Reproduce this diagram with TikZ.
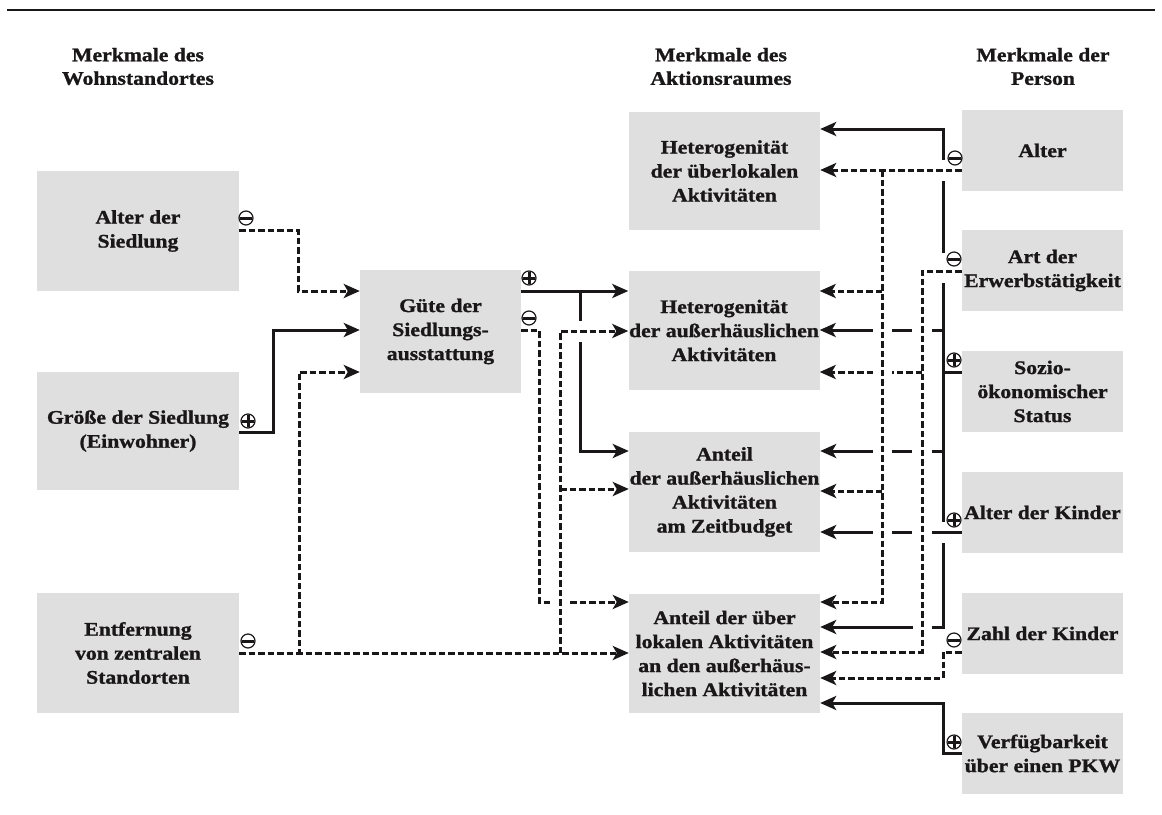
\documentclass[tikz,border=0pt]{standalone}
\usepackage{fontspec}
\newfontfamily\bxfont{Liberation Serif Bold}[FakeStretch=1.13,FakeBold=1.2]
\usetikzlibrary{arrows.meta}
\definecolor{ink}{HTML}{1A1718}
\definecolor{boxgray}{HTML}{DFDFDF}
\tikzset{
  box/.style={rectangle,fill=boxgray,inner sep=0pt,align=center,text=ink,
    font=\bxfont\fontsize{19.2}{24}\selectfont},
  hdr/.style={inner sep=0pt,align=center,text=ink,font=\bxfont\fontsize{19.2}{23.5}\selectfont},
  lbox/.style={box,minimum width=202pt,minimum height=120pt},
  mbox/.style={box,minimum width=191pt,minimum height=119pt},
  pbox/.style={box,minimum width=161pt,minimum height=81pt},
  sol/.style={draw=ink,line width=3pt},
  dsh/.style={draw=ink,line width=3pt,dash pattern=on 6.5pt off 3pt},
  arr/.style={-{Stealth[length=16pt,width=14pt,inset=4pt]}},
  msign/.style={circle,draw=ink,line width=1.2pt,fill=white,minimum size=14pt,inner sep=0pt,
    path picture={\draw[ink,line width=3pt] ([xshift=-6pt]path picture bounding box.center) -- ([xshift=6pt]path picture bounding box.center);}},
  psign/.style={circle,draw=ink,line width=1.2pt,fill=white,minimum size=14pt,inner sep=0pt,
    path picture={\draw[ink,line width=3pt] ([xshift=-6pt]path picture bounding box.center) -- ([xshift=6pt]path picture bounding box.center)
      ([yshift=-6pt]path picture bounding box.center) -- ([yshift=6pt]path picture bounding box.center);}}
}
\begin{document}
\begin{tikzpicture}[x=1pt,y=-1pt]
\useasboundingbox (0,0) rectangle (1162,814);
\draw[ink,line width=2.6pt] (7,10) -- (1155,10);

% headers
\node[hdr] (h1) at (138,66.5) {Merkmale des\\Wohnstandortes};
\node[hdr] (h2) at (721,66.5) {Merkmale des\\Aktionsraumes};
\node[hdr] (h3) at (1043,66.5) {Merkmale der\\Person};

% left boxes
\node[lbox] (sied) at (138,231) {Alter der\\Siedlung};
\node[lbox,minimum height=118pt] (groesse) at (138,431) {Größe der Siedlung\\(Einwohner)};
\node[lbox] (entf) at (138,653) {Entfernung\\von zentralen\\Standorten};
\node[box,minimum width=161pt,minimum height=123pt] (guete) at (440.5,331.5) {Güte der\\Siedlungs-\\ausstattung};

% middle boxes
\node[mbox,minimum height=118pt] (hetueber) at (724.5,171) {Heterogenität\\der überlokalen\\Aktivitäten};
\node[mbox] (hetausser) at (724,330.5) {Heterogenität\\der außerhäuslichen\\Aktivitäten};
\node[mbox,minimum height=120pt] (anteilzeit) at (724.5,492) {Anteil\\der außerhäuslichen\\Aktivitäten\\am Zeitbudget};
\node[mbox] (anteilueber) at (724.5,653.5) {Anteil der über\\lokalen Aktivitäten\\an den außerhäus-\\lichen Aktivitäten};

% right boxes
\node[pbox] (alter) at (1042.5,150.5) {Alter};
\node[pbox] (art) at (1042.5,270.5) {Art der\\Erwerbstätigkeit};
\node[pbox] (sozio) at (1042.5,391.5) {Sozio-\\ökonomischer\\Status};
\node[pbox] (kinder) at (1042.5,512.5) {Alter der Kinder};
\node[pbox] (zahl) at (1042.5,633.5) {Zahl der Kinder};
\node[pbox] (pkw) at (1042.5,753.5) {Verfügbarkeit\\über einen PKW};

% left connectors
\draw[dsh,arr] (sied.east |- 0,230) -- (298,230) -- (298,291) -- (guete.west |- 0,291);
\draw[sol,arr] (groesse.east |- 0,432) -- (273,432) -- (273,330) -- (guete.west |- 0,330);
\draw[dsh,arr] (entf.east |- 0,653) -- (299,653) -- (299,372) -- (guete.west |- 0,372);
\draw[dsh,arr] (entf.east |- 0,653) -- (anteilueber.west |- 0,653);

% from Guete
\draw[sol,arr] (guete.east |- 0,291) -- (hetausser.west |- 0,291);
\coordinate (j1) at (580,291);
\draw[sol] (j1) -- (580,321);
\draw[sol,arr] (580,342) -- (580,451) -- (anteilzeit.west |- 0,451);
\draw[dsh] (guete.east |- 0,330) -- (539,330) -- (539,602) -- (553,602);
\draw[dsh,arr] (570,602) -- (anteilueber.west |- 0,602);
\draw[dsh,arr] (560,653) -- (560,331) -- (hetausser.west |- 0,331);
\draw[dsh,arr] (560,489) -- (anteilzeit.west |- 0,489);

% solid bus x=943
\draw[sol,arr] (943,160) -- (943,129) -- (hetueber.east |- 0,129);
\draw[sol] (943,181) -- (943,253);
\draw[sol] (943,283) -- (943,522);
\draw[sol] (943,543) -- (943,627) -- (932,627);
\draw[sol,arr] (913,627) -- (anteilueber.east |- 0,627);
\draw[sol] (943,330) -- (932,330) (912,330) -- (892,330);
\draw[sol,arr] (873,330) -- (hetausser.east |- 0,330);
\draw[sol] (943,451) -- (932,451) (912,451) -- (892,451);
\draw[sol,arr] (873,451) -- (anteilzeit.east |- 0,451);
\draw[sol] (sozio.west |- 0,372) -- (943,372);
\draw[sol] (kinder.west |- 0,532) -- (932,532) (912,532) -- (892,532);
\draw[sol,arr] (873,532) -- (anteilzeit.east |- 0,532);

% dashed bus x=882
\draw[dsh,arr] (alter.west |- 0,170) -- (hetueber.east |- 0,170);
\draw[dsh,arr] (882,170) -- (882,602) -- (anteilueber.east |- 0,602);
\draw[dsh,arr] (882,291) -- (hetausser.east |- 0,291);
\draw[dsh,arr] (882,491) -- (anteilzeit.east |- 0,491);

% dashed bus x=922
\draw[dsh,arr] (art.west |- 0,271) -- (922,271) -- (922,652) -- (anteilueber.east |- 0,652);
\draw[dsh] (922,372) -- (892,372);
\draw[dsh,arr] (873,372) -- (hetausser.east |- 0,372);

% Zahl, PKW
\draw[dsh,arr] (zahl.west |- 0,652) -- (943,652) -- (943,678) -- (anteilueber.east |- 0,678);
\draw[sol,arr] (pkw.west |- 0,753) -- (943,753) -- (943,703) -- (anteilueber.east |- 0,703);

% signs
\node[msign] (s1) at (246,218) {};
\node[psign] (s2) at (248,421) {};
\node[msign] (s3) at (248,641) {};
\node[psign] (s4) at (529,278) {};
\node[msign] (s5) at (529,318) {};
\node[msign] (s6) at (955,158) {};
\node[msign] (s7) at (954,259) {};
\node[psign] (s8) at (954,360) {};
\node[psign] (s9) at (954,520) {};
\node[msign] (s10) at (954,640) {};
\node[psign] (s11) at (954,742) {};
\end{tikzpicture}
\end{document}
